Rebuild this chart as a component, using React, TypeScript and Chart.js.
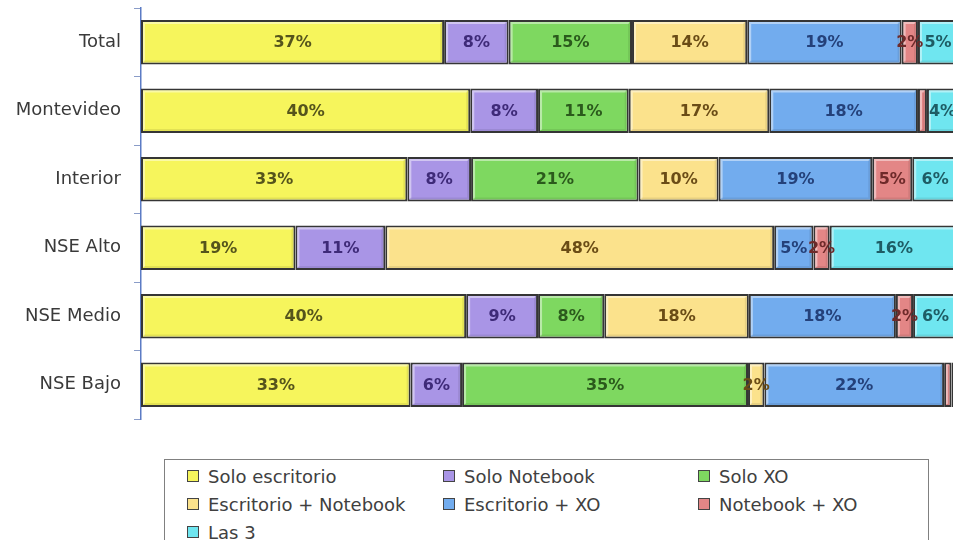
import React, { useEffect, useRef } from "react";
import { Chart, registerables } from "chart.js";

Chart.register(...registerables);

const categories = ["Total", "Montevideo", "Interior", "NSE Alto", "NSE Medio", "NSE Bajo"];
const seriesNames = [
  "Solo escritorio",
  "Solo Notebook",
  "Solo XO",
  "Escritorio + Notebook",
  "Escritorio + XO",
  "Notebook + XO",
  "Las 3",
];
// values per series, in category order (percent)
const soloEscritorio = [37.1, 40.3, 32.6, 18.9, 39.8, 33.0];
const soloNotebook = [7.9, 8.3, 7.8, 11.0, 8.8, 6.3];
const soloXO = [15.1, 11.1, 20.5, 0, 8.1, 35.0];
const escritorioNotebook = [14.1, 17.2, 9.8, 47.6, 17.7, 2.0];
const escritorioXO = [18.9, 18.2, 18.8, 4.8, 18.0, 22.0];
const notebookXO = [2.0, 1.1, 4.9, 2.0, 2.1, 0.9];
const las3 = [4.9, 3.8, 5.6, 15.7, 5.5, 0.8];

const seriesValues = [soloEscritorio, soloNotebook, soloXO, escritorioNotebook, escritorioXO, notebookXO, las3];
const fillColors = ["#F6F55C", "#A995E6", "#7ED860", "#FBE28C", "#72ACEE", "#E38686", "#6FE6F0"];
const labelColors = ["#55541C", "#3E2A78", "#2B5A1C", "#6A4C16", "#24417A", "#6E2A2A", "#1E5C64"];

const labelPlugin = {
  id: "segLabels",
  afterDatasetsDraw(chart: any) {
    const ctx = chart.ctx;
    const area = chart.chartArea;
    ctx.save();
    ctx.beginPath();
    ctx.rect(area.left, area.top - 5, area.right - area.left, area.bottom - area.top + 10);
    ctx.clip();
    // bevel highlight/shadow inside each segment
    chart.data.datasets.forEach((ds: any, di: number) => {
      const meta = chart.getDatasetMeta(di);
      meta.data.forEach((el: any, i: number) => {
        if (!ds.data[i]) return;
        const p = el.getProps(["x", "base", "y", "height"], true);
        const l = Math.min(p.x, p.base) + 2;
        const r = Math.max(p.x, p.base) - 2;
        const t = p.y - p.height / 2 + 2;
        const b = p.y + p.height / 2 - 2;
        if (r - l < 2) return;
        ctx.lineWidth = 2;
        ctx.strokeStyle = "rgba(255,255,255,0.45)";
        ctx.beginPath();
        ctx.moveTo(l + 1, b - 1);
        ctx.lineTo(l + 1, t + 1);
        ctx.lineTo(r - 1, t + 1);
        ctx.stroke();
        ctx.strokeStyle = "rgba(0,0,0,0.08)";
        ctx.beginPath();
        ctx.moveTo(r - 1, t + 1);
        ctx.lineTo(r - 1, b - 1);
        ctx.lineTo(l + 1, b - 1);
        ctx.stroke();
      });
    });
    ctx.restore();

    ctx.save();
    ctx.font = "bold 16px 'DejaVu Sans'";
    ctx.textAlign = "center";
    ctx.textBaseline = "middle";
    chart.data.datasets.forEach((ds: any, di: number) => {
      const meta = chart.getDatasetMeta(di);
      meta.data.forEach((el: any, i: number) => {
        const v = ds.data[i];
        if (v < 1.5) return;
        const p = el.getProps(["x", "base", "y"], true);
        ctx.fillStyle = labelColors[di];
        ctx.fillText(Math.round(v) + "%", (p.x + p.base) / 2, p.y + 1);
      });
    });
    ctx.restore();
  },
};

export default function App() {
  const ref = useRef<HTMLCanvasElement>(null);
  useEffect(() => {
    const chart = new Chart(ref.current!, {
      type: "bar",
      data: {
        labels: categories,
        datasets: seriesNames.map((n, i) => ({
          label: n,
          data: seriesValues[i],
          backgroundColor: fillColors[i],
          borderColor: "#353535",
          borderWidth: 2,
          borderSkipped: false,
          barPercentage: 0.65,
          categoryPercentage: 1,
        })),
      },
      options: {
        indexAxis: "y",
        animation: false,
        responsive: false,
        maintainAspectRatio: false,
        layout: { padding: { top: 8, bottom: 11, left: 0, right: 0 } },
        plugins: { legend: { display: false }, tooltip: { enabled: false } },
        scales: {
          x: { stacked: true, min: 0, max: 100, display: false },
          y: {
            stacked: true,
            afterFit: (s: any) => {
              s.width = 141;
              s.paddingTop = 0;
              s.paddingBottom = 0;
            },
            grid: {
              drawOnChartArea: false,
              offset: true,
              tickLength: 7,
              color: "#8A9CC8",
            },
            border: { color: "#5B7BC4", width: 1.5 },
            ticks: {
              color: "#3a3a3a",
              font: { family: "'DejaVu Sans'", size: 18 },
              padding: 13,
            },
          },
        },
      },
      plugins: [labelPlugin],
    });
    return () => chart.destroy();
  }, []);

  const cols = [22, 278, 533];
  return (
    <div style={{ position: "absolute", left: 0, top: 0, width: 953, height: 540, overflow: "hidden", background: "#fff" }}>
      <div style={{ position: "absolute", left: 0, top: 0, width: 958, height: 430 }}>
        <canvas ref={ref} width={958} height={430} style={{ display: "block" }} />
      </div>
      <div
        style={{
          position: "absolute",
          left: 164,
          top: 459,
          width: 765,
          height: 120,
          border: "1px solid #808080",
          boxSizing: "border-box",
          fontFamily: "'DejaVu Sans'",
          fontSize: 18,
          color: "#404040",
        }}
      >
        {seriesNames.map((n, i) => (
          <div
            key={n}
            style={{
              position: "absolute",
              left: cols[i % 3],
              top: 16 + Math.floor(i / 3) * 28 - 11,
              height: 22,
              display: "flex",
              alignItems: "center",
              whiteSpace: "nowrap",
            }}
          >
            <span
              style={{
                display: "inline-block",
                width: 10,
                height: 10,
                background: fillColors[i],
                border: "1px solid #444",
                marginRight: 9,
              }}
            />
            <span>{n}</span>
          </div>
        ))}
      </div>
    </div>
  );
}
